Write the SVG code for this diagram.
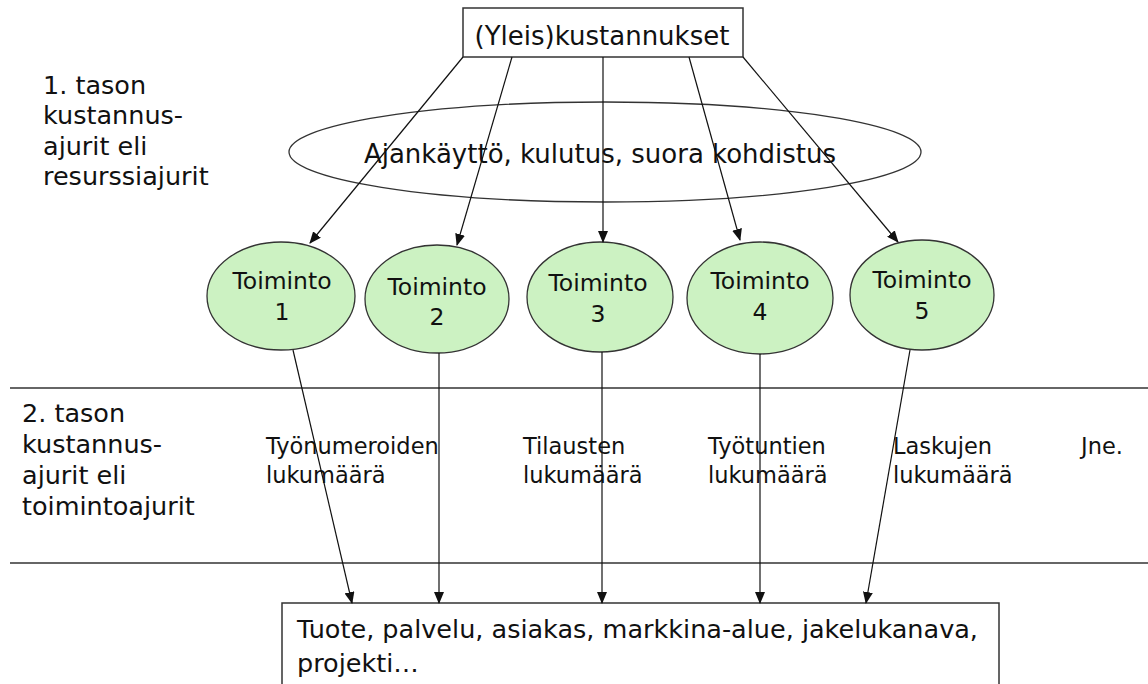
<svg xmlns="http://www.w3.org/2000/svg" width="1148" height="684" viewBox="0 0 1148 684">
<style>
text{font-family:"DejaVu Sans","Liberation Sans",sans-serif;fill:#111}
.box{fill:#fff;stroke:#333;stroke-width:1.5}
.act{fill:#ccf2c2;stroke:#333;stroke-width:1.3}
.ln{stroke:#111;stroke-width:1.2;fill:none}
.sep{stroke:#333;stroke-width:1.6}
.lbl{font-size:25.5px}
.mid{font-size:22.5px}
.tn{font-size:23.5px;text-anchor:middle}
</style>
<defs>
<marker id="ah" markerWidth="12" markerHeight="10" refX="11" refY="5" orient="auto" markerUnits="userSpaceOnUse">
<path d="M0,0 L12,5 L0,10 Z" fill="#111"/>
</marker>
</defs>
<rect width="1148" height="684" fill="#fff"/>
<line class="sep" x1="10" y1="388" x2="1148" y2="388"/>
<line class="sep" x1="10" y1="563" x2="1148" y2="563"/>
<g id="labels">
<text class="lbl" x="43" y="94">1. tason</text>
<text class="lbl" x="43" y="124">kustannus-</text>
<text class="lbl" x="43" y="155">ajurit eli</text>
<text class="lbl" x="43" y="185">resurssiajurit</text>
<text class="lbl" x="22" y="422">2. tason</text>
<text class="lbl" x="22" y="453">kustannus-</text>
<text class="lbl" x="22" y="484">ajurit eli</text>
<text class="lbl" x="22" y="515">toimintoajurit</text>
<text class="mid" x="266" y="454">Työnumeroiden</text>
<text class="mid" x="266" y="483">lukumäärä</text>
<text class="mid" x="523" y="454">Tilausten</text>
<text class="mid" x="523" y="483">lukumäärä</text>
<text class="mid" x="708" y="454">Työtuntien</text>
<text class="mid" x="708" y="483">lukumäärä</text>
<text class="mid" x="893" y="454">Laskujen</text>
<text class="mid" x="893" y="483">lukumäärä</text>
<text class="mid" x="1081" y="454">Jne.</text>
</g>
<g id="costs">
<rect class="box" x="463" y="8" width="280" height="49"/>
<text x="602" y="45" font-size="26" text-anchor="middle">(Yleis)kustannukset</text>
</g>
<g id="drivers">
<ellipse cx="605" cy="152" rx="316" ry="50" fill="none" stroke="#333" stroke-width="1.3"/>
</g>
<g id="act1"><ellipse class="act" cx="281" cy="296" rx="74" ry="54"/><text class="tn" x="282" y="289">Toiminto</text><text class="tn" x="282" y="320">1</text></g>
<g id="act2"><ellipse class="act" cx="437" cy="299" rx="72" ry="54"/><text class="tn" x="437" y="295">Toiminto</text><text class="tn" x="437" y="325">2</text></g>
<g id="act3"><ellipse class="act" cx="600" cy="297" rx="73" ry="55"/><text class="tn" x="598" y="291">Toiminto</text><text class="tn" x="598" y="322">3</text></g>
<g id="act4"><ellipse class="act" cx="760" cy="298" rx="73" ry="56"/><text class="tn" x="760" y="289">Toiminto</text><text class="tn" x="760" y="320">4</text></g>
<g id="act5"><ellipse class="act" cx="922" cy="295" rx="72" ry="55"/><text class="tn" x="922" y="288">Toiminto</text><text class="tn" x="922" y="319">5</text></g>
<g id="target">
<rect class="box" x="282" y="603" width="717" height="100"/>
<text x="297" y="638" font-size="25.5">Tuote, palvelu, asiakas, markkina-alue, jakelukanava,</text>
<text x="297" y="672" font-size="25.5">projekti…</text>
</g>
<g id="connectors">
<line class="ln" x1="463" y1="57" x2="310" y2="243" marker-end="url(#ah)"/>
<line class="ln" x1="512" y1="57" x2="457" y2="245" marker-end="url(#ah)"/>
<line class="ln" x1="603" y1="57" x2="603" y2="242" marker-end="url(#ah)"/>
<line class="ln" x1="689" y1="57" x2="740" y2="240" marker-end="url(#ah)"/>
<line class="ln" x1="743" y1="57" x2="898" y2="242" marker-end="url(#ah)"/>
<line class="ln" x1="293" y1="350" x2="352" y2="603" marker-end="url(#ah)"/>
<line class="ln" x1="439" y1="353" x2="439" y2="603" marker-end="url(#ah)"/>
<line class="ln" x1="602" y1="352" x2="602" y2="603" marker-end="url(#ah)"/>
<line class="ln" x1="760" y1="354" x2="760" y2="603" marker-end="url(#ah)"/>
<line class="ln" x1="910" y1="350" x2="866" y2="603" marker-end="url(#ah)"/>
</g>
<text x="600" y="163" font-size="26" text-anchor="middle">Ajankäyttö, kulutus, suora kohdistus</text>
</svg>
